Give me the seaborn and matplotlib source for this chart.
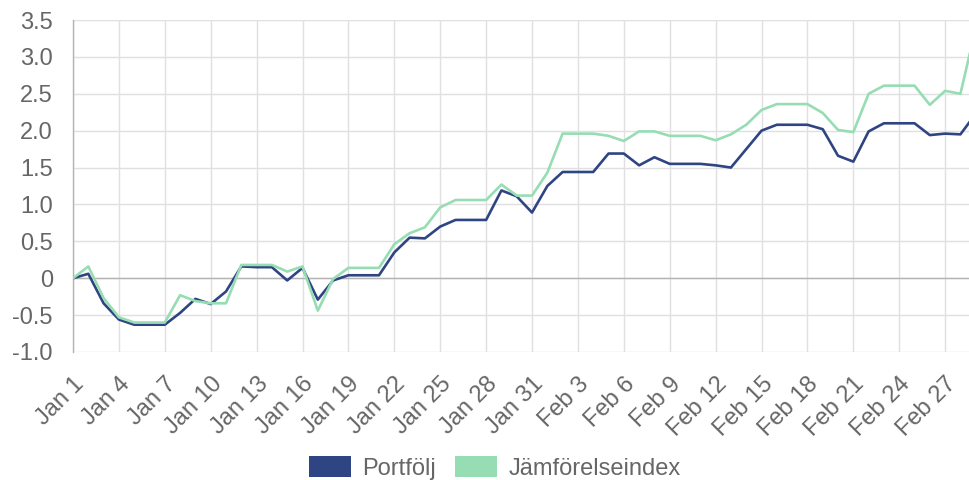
import matplotlib
matplotlib.use("Agg")
import matplotlib.pyplot as plt
import matplotlib.dates as mdates
from matplotlib.patches import Patch
from matplotlib.ticker import FuncFormatter, FixedLocator
import seaborn as sns
import pandas as pd
import numpy as np

# ---- data ----
dates = pd.date_range("2024-01-01", "2024-02-29", freq="D")
portfolj = [0.00, 0.06, -0.34, -0.56, -0.63, -0.63, -0.63, -0.47, -0.28, -0.35,
            -0.18, 0.16, 0.15, 0.15, -0.03, 0.14, -0.29, -0.03, 0.04, 0.04,
            0.04, 0.35, 0.55, 0.54, 0.70, 0.79, 0.79, 0.79, 1.19, 1.11,
            0.89, 1.25, 1.44, 1.44, 1.44, 1.69, 1.69, 1.53, 1.64, 1.55,
            1.55, 1.55, 1.53, 1.50, 1.75, 2.00, 2.08, 2.08, 2.08, 2.02,
            1.66, 1.58, 1.99, 2.10, 2.10, 2.10, 1.94, 1.96, 1.95, 2.23]
jamforelse = [0.00, 0.16, -0.27, -0.53, -0.60, -0.60, -0.60, -0.23, -0.31, -0.34,
              -0.34, 0.18, 0.18, 0.18, 0.09, 0.16, -0.44, -0.01, 0.14, 0.14,
              0.14, 0.46, 0.61, 0.69, 0.96, 1.06, 1.06, 1.06, 1.27, 1.12,
              1.12, 1.43, 1.96, 1.96, 1.96, 1.93, 1.86, 1.99, 1.99, 1.93,
              1.93, 1.93, 1.87, 1.95, 2.08, 2.28, 2.36, 2.36, 2.36, 2.24,
              2.01, 1.98, 2.50, 2.61, 2.61, 2.61, 2.35, 2.54, 2.50, 3.39]
series_names = ["Portfölj", "Jämförelseindex"]
colors = ["#2f4583", "#97ddb4"]
y_ticks = [-1.0, -0.5, 0.0, 0.5, 1.0, 1.5, 2.0, 2.5, 3.0, 3.5]

df = pd.DataFrame({
    "date": list(dates) * 2,
    "value": portfolj + jamforelse,
    "series": [series_names[0]] * len(dates) + [series_names[1]] * len(dates),
})

sns.set_style("white")
plt.rcParams["font.family"] = ["Liberation Sans", "DejaVu Sans"]

fig = plt.figure(figsize=(9.69, 4.8), dpi=100)
ax = fig.add_axes([73 / 969, 128 / 480, 896 / 969, 332 / 480])

grid_c = "#e0e0e0"
axis_c = "#b3b3b3"
text_c = "#666666"

sns.lineplot(data=df, x="date", y="value", hue="series", hue_order=series_names,
             palette=colors, linewidth=1.9, ax=ax, legend=False, zorder=3)

# zero line (drawn under series)
ax.axhline(0, color=axis_c, linewidth=1.0, zorder=2)

# axes limits
ax.set_xlim(dates[0], dates[0] + pd.Timedelta(days=58.56))
ax.set_ylim(-1.0, 3.5)

tick_dates = dates[:-1][::3]
ax.xaxis.set_major_locator(FixedLocator(mdates.date2num(tick_dates)))
ax.set_xticklabels([f"{d:%b} {d.day}" for d in tick_dates], rotation=45,
                   ha="right", va="top", rotation_mode="anchor")
ax.set_yticks(y_ticks)
ax.yaxis.set_major_formatter(FuncFormatter(lambda v, p: "0" if abs(v) < 1e-9 else f"{v:.1f}"))

ax.grid(True, color=grid_c, linewidth=1.0, zorder=1)
ax.set_axisbelow(True)
ax.tick_params(axis="x", length=13, width=1.0, color=grid_c, pad=2,
               labelsize=17, labelcolor=text_c)
ax.tick_params(axis="y", length=13.5, width=1.0, color=grid_c, pad=1,
               labelsize=17, labelcolor=text_c)
ax.xaxis.get_ticklines()[0].set_color(axis_c)

for s in ["top", "right", "bottom"]:
    ax.spines[s].set_visible(False)
ax.spines["left"].set_color(axis_c)
ax.spines["left"].set_linewidth(1.0)
ax.set_xlabel("")
ax.set_ylabel("")

handles = [Patch(facecolor=c, edgecolor="none", label=n) for c, n in zip(colors, series_names)]
fig.legend(handles=handles, loc="center", bbox_to_anchor=(495 / 969, 12 / 480),
           ncol=2, frameon=False, fontsize=17, handlelength=1.78, handleheight=1.0,
           handletextpad=0.5, columnspacing=0.8, labelcolor=text_c,
           borderpad=0, borderaxespad=0)

fig.savefig("out.png", dpi=100)
